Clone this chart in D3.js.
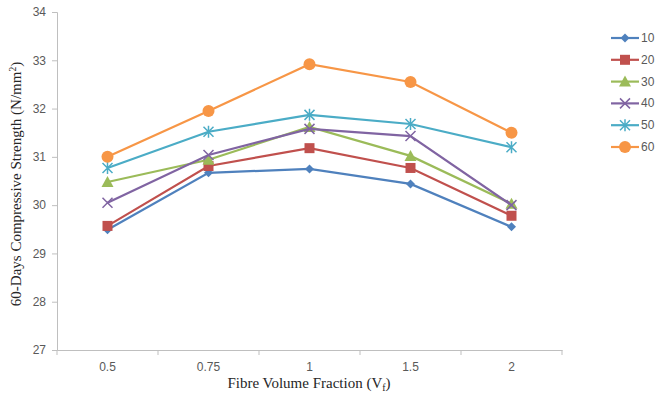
<!DOCTYPE html>
<html><head><meta charset="utf-8">
<script src="https://cdn.jsdelivr.net/npm/d3@7"></script>
<style>body{margin:0;background:#fff}svg{display:block}</style>
</head><body>
<svg id="c" width="655" height="398"></svg>
<script>
const categories = ["0.5","0.75","1","1.5","2"];
const seriesNames = ["10","20","30","40","50","60"];
const s10 = [29.49, 30.67, 30.75, 30.44, 29.55];
const s20 = [29.57, 30.81, 31.18, 30.77, 29.78];
const s30 = [30.48, 30.94, 31.62, 31.02, 30.03];
const s40 = [30.05, 31.04, 31.58, 31.43, 30.00];
const s50 = [30.77, 31.52, 31.87, 31.68, 31.20];
const s60 = [31.00, 31.95, 32.92, 32.55, 31.50];
const yTicks = [27,28,29,30,31,32,33,34];
const colors = ["#4F81BD","#C0504D","#9BBB59","#8064A2","#4BACC6","#F79646"];
const markers = ["diamond","square","triangle","x","asterisk","circle"];
const values = [s10,s20,s30,s40,s50,s60];

const svg = d3.select("#c");
const x = d3.scaleBand().domain(categories).range([57, 562]);
const y = d3.scaleLinear().domain([27,34]).range([350, 12]);
const axisCol = "#BFBFBF", textCol = "#595959";

// y axis
const ya = svg.append("g").attr("transform","translate(57,0)")
  .call(d3.axisLeft(y).tickValues(yTicks).tickFormat(d3.format("d")).tickSize(5).tickPadding(6));
ya.select(".domain").attr("stroke",axisCol);
ya.selectAll(".tick line").attr("stroke",axisCol);
ya.selectAll(".tick text").attr("fill",textCol).style("font-family","Liberation Sans, Arial").style("font-size","12px");

// x axis
const xa = svg.append("g").attr("transform","translate(0,350)")
  .call(d3.axisBottom(x).tickSize(0).tickPadding(12));
xa.select(".domain").attr("stroke",axisCol);
xa.selectAll(".tick text").attr("fill",textCol).style("font-family","Liberation Sans, Arial").style("font-size","12px");
const bounds = categories.map(c => x(c)).concat([x.range()[1]]);
xa.selectAll("line.bt").data(bounds).enter().append("line").attr("class","bt")
  .attr("x1",d=>d).attr("x2",d=>d).attr("y1",0).attr("y2",5).attr("stroke",axisCol);

// titles
svg.append("text").attr("transform","translate(21,184) rotate(-90)").attr("text-anchor","middle")
  .style("font-family","Liberation Serif, Times New Roman").style("font-size","15px").attr("fill","#262626")
  .html('60-Days Compressive Strength (N/mm<tspan dy="-5" font-size="9.5px">2</tspan><tspan dy="5">)</tspan>');
svg.append("text").attr("x",309).attr("y",388).attr("text-anchor","middle")
  .style("font-family","Liberation Serif, Times New Roman").style("font-size","15px").attr("fill","#262626")
  .html('Fibre Volume Fraction (V<tspan dy="3" font-size="10px">f</tspan><tspan dy="-3">)</tspan>');

function drawMarker(g, type, color, cx, cy) {
  if (type==="diamond") g.append("path").attr("d",`M${cx},${cy-4.5}L${cx+4.5},${cy}L${cx},${cy+4.5}L${cx-4.5},${cy}Z`).attr("fill",color);
  else if (type==="square") g.append("rect").attr("x",cx-5).attr("y",cy-5).attr("width",10).attr("height",10).attr("fill",color);
  else if (type==="triangle") g.append("path").attr("d",`M${cx},${cy-6}L${cx+6},${cy+5}L${cx-6},${cy+5}Z`).attr("fill",color);
  else if (type==="x") g.append("path").attr("d",`M${cx-5},${cy-5}L${cx+5},${cy+5}M${cx-5},${cy+5}L${cx+5},${cy-5}`).attr("stroke",color).attr("stroke-width",1.5).attr("fill","none");
  else if (type==="asterisk") g.append("path").attr("d",`M${cx-5},${cy-5}L${cx+5},${cy+5}M${cx-5},${cy+5}L${cx+5},${cy-5}M${cx},${cy-6}L${cx},${cy+6}`).attr("stroke",color).attr("stroke-width",1.5).attr("fill","none");
  else if (type==="circle") g.append("circle").attr("cx",cx).attr("cy",cy).attr("r",6).attr("fill",color);
}

const line = d3.line().x((d,i)=>x(categories[i])+x.bandwidth()/2).y(d=>y(d));
values.forEach((vals, si) => {
  const g = svg.append("g");
  g.append("path").attr("d", line(vals)).attr("fill","none").attr("stroke",colors[si]).attr("stroke-width",2.2);
  vals.forEach((v,i) => drawMarker(g, markers[si], colors[si], x(categories[i])+x.bandwidth()/2, y(v)));
});

// legend
seriesNames.forEach((n, i) => {
  const ly = 38 + i*21.8;
  const g = svg.append("g");
  g.append("line").attr("x1",611).attr("x2",639).attr("y1",ly).attr("y2",ly).attr("stroke",colors[i]).attr("stroke-width",2.2);
  drawMarker(g, markers[i], colors[i], 625, ly);
  g.append("text").attr("x",641).attr("y",ly+4).text(n).attr("fill",textCol)
    .style("font-family","Liberation Sans, Arial").style("font-size","12px");
});
</script>
</body></html>
